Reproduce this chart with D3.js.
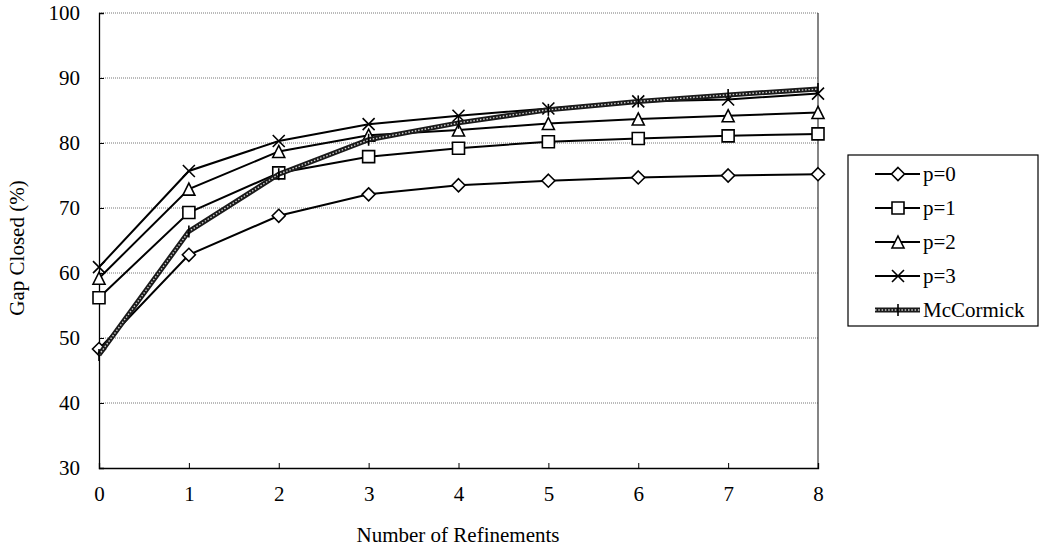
<!DOCTYPE html>
<html>
<head>
<meta charset="utf-8">
<script src="https://cdnjs.cloudflare.com/ajax/libs/d3/7.8.5/d3.min.js"></script>
<style>
  body { margin: 0; background: #fff; }
  svg text { font-family: "Liberation Serif", "DejaVu Serif", serif !important; fill: #000; }
</style>
</head>
<body>
<div id="chart"></div>
<script>
// data
var refinements = [0, 1, 2, 3, 4, 5, 6, 7, 8];
var p0 = [48.3, 62.8, 68.8, 72.1, 73.5, 74.2, 74.7, 75.0, 75.2];
var p1 = [56.2, 69.3, 75.4, 77.9, 79.2, 80.2, 80.7, 81.1, 81.4];
var p2 = [59.2, 72.9, 78.7, 81.2, 82.0, 83.0, 83.7, 84.2, 84.7];
var p3 = [60.9, 75.7, 80.3, 82.9, 84.2, 85.3, 86.4, 86.7, 87.6];
var mccormick = [47.4, 66.4, 75.2, 80.5, 83.1, 85.1, 86.4, 87.4, 88.3];
var seriesNames = ["p=0", "p=1", "p=2", "p=3", "McCormick"];
var markers = ["diamond", "square", "triangle", "cross", "plus"];
var yTicks = [30, 40, 50, 60, 70, 80, 90, 100];

var W = 1042, H = 550;
var FONT = "'Liberation Serif', 'DejaVu Serif', serif";
var svg = d3.select("#chart").append("svg").attr("width", W).attr("height", H)
  .attr("font-family", FONT);

var x = d3.scaleLinear().domain([0, 8]).range([99, 818]);
var y = d3.scaleLinear().domain([30, 100]).range([468, 13]);

// gridlines
svg.append("g").selectAll("line").data(yTicks.slice(1)).enter().append("line")
  .attr("x1", x(0)).attr("x2", x(8))
  .attr("y1", d => y(d)).attr("y2", d => y(d))
  .attr("stroke", "#777").attr("stroke-width", 1).attr("stroke-dasharray", "1,1");

// right border
svg.append("line").attr("x1", x(8)).attr("x2", x(8)).attr("y1", y(100)).attr("y2", y(30))
  .attr("stroke", "#333").attr("stroke-width", 1.2);

// axes
var yAxis = d3.axisLeft(y).tickValues(yTicks).tickSize(-5).tickPadding(19);
var gy = svg.append("g").attr("transform", "translate(" + x(0) + ",0)").call(yAxis);

var xAxis = d3.axisBottom(x).tickValues(refinements).tickSize(-5).tickPadding(18).tickFormat(d3.format("d"));
var gx = svg.append("g").attr("transform", "translate(0," + y(30) + ")").call(xAxis);
[gx, gy].forEach(function (g) {
  g.attr("font-family", FONT).attr("font-size", 21);
  g.selectAll("text").style("font-family", FONT).style("font-size", "21px");
  g.select(".domain").attr("stroke", "#000").attr("stroke-width", 1.3);
  g.selectAll(".tick line").attr("stroke", "#000");
});

// axis titles
svg.append("text").attr("x", 458).attr("y", 542).attr("text-anchor", "middle")
  .style("font-family", FONT).style("font-size", "21px").text("Number of Refinements");
svg.append("text").attr("transform", "translate(24,248) rotate(-90)").attr("text-anchor", "middle")
  .style("font-family", FONT).style("font-size", "21px").text("Gap Closed (%)");

function markerPath(type, s) {
  switch (type) {
    case "diamond": return "M0," + (-s) + "L" + s + ",0L0," + s + "L" + (-s) + ",0Z";
    case "square": return "M" + (-s) + "," + (-s) + "H" + s + "V" + s + "H" + (-s) + "Z";
    case "triangle": return "M0," + (-s) + "L" + s + "," + s + "L" + (-s) + "," + s + "Z";
    case "cross": return "M" + (-s) + "," + (-s) + "L" + s + "," + s + "M" + s + "," + (-s) + "L" + (-s) + "," + s;
    case "plus": return "M0," + (-s) + "V" + s;
  }
}

var line = d3.line().x((d, i) => x(refinements[i])).y(d => y(d));
var allSeries = [p0, p1, p2, p3, mccormick];

function drawSeries(g, vals, idx) {
  if (idx === 4) {
    g.append("path").datum(vals).attr("d", line).attr("fill", "none")
      .attr("stroke", "#1a1a1a").attr("stroke-width", 5);
    g.append("path").datum(vals).attr("d", line).attr("fill", "none")
      .attr("stroke", "#cfcfcf").attr("stroke-width", 1.4).attr("stroke-dasharray", "1.5,1.8");
  } else {
    g.append("path").datum(vals).attr("d", line).attr("fill", "none")
      .attr("stroke", "#000").attr("stroke-width", 2);
  }
  var s = markers[idx] === "diamond" ? 6.5 : 6;
  g.selectAll("path.m").data(vals).enter().append("path").attr("class", "m")
    .attr("transform", (d, i) => "translate(" + x(refinements[i]) + "," + y(d) + ")")
    .attr("d", markerPath(markers[idx], s))
    .attr("fill", (markers[idx] === "cross" || markers[idx] === "plus") ? "none" : "#fff")
    .attr("stroke", "#000").attr("stroke-width", 1.6);
}

allSeries.forEach(function (vals, idx) {
  drawSeries(svg.append("g"), vals, idx);
});

// legend
var legend = svg.append("g");
legend.append("rect").attr("x", 848).attr("y", 155).attr("width", 190).attr("height", 171)
  .attr("fill", "#fff").attr("stroke", "#000").attr("stroke-width", 1.2);
seriesNames.forEach(function (name, idx) {
  var ly = 174 + idx * 34;
  var g = legend.append("g");
  if (idx === 4) {
    g.append("line").attr("x1", 875).attr("x2", 920).attr("y1", ly).attr("y2", ly)
      .attr("stroke", "#1a1a1a").attr("stroke-width", 5);
    g.append("line").attr("x1", 875).attr("x2", 920).attr("y1", ly).attr("y2", ly)
      .attr("stroke", "#cfcfcf").attr("stroke-width", 1.4).attr("stroke-dasharray", "1.5,1.8");
  } else {
    g.append("line").attr("x1", 875).attr("x2", 920).attr("y1", ly).attr("y2", ly)
      .attr("stroke", "#000").attr("stroke-width", 2);
  }
  g.append("path").attr("transform", "translate(898," + ly + ")")
    .attr("d", markerPath(markers[idx], markers[idx] === "diamond" ? 6.5 : 6))
    .attr("fill", (markers[idx] === "cross" || markers[idx] === "plus") ? "none" : "#fff")
    .attr("stroke", "#000").attr("stroke-width", 1.6);
  g.append("text").attr("x", 923).attr("y", ly + 7)
    .style("font-family", FONT).style("font-size", "21px").text(name);
});
</script>
</body>
</html>
